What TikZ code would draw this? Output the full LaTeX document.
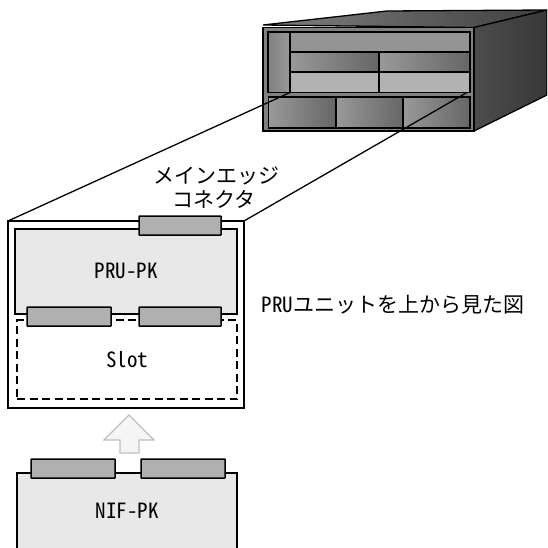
\documentclass[tikz,border=0pt]{standalone}
\usepackage{fontspec}
\setmainfont[RawFeature={+hwid}]{Noto Sans CJK JP}
\usetikzlibrary{positioning}
\tikzset{
  every node/.append style={inner sep=0pt,outer sep=0pt},
  region/.style 2 args={rectangle,draw,line width=1.3pt,anchor=north west,
    minimum width=#1pt,minimum height=#2pt},
  pack/.style={fill=black!9},
  connector/.style={fill=black!31,line width=1.5pt,rounded corners=0.5pt},
  flat/.style={fill=#1},
  grad/.style={left color=black!40,middle color=black!48,right color=black!60},
  label/.style={font=\fontsize{21}{24}\selectfont},
}
\begin{document}
\begin{tikzpicture}[x=1pt,y=-1pt]
  \clip (0,0) rectangle (547,548);
  % chassis
  \draw[line width=1.3pt,left color=black!50,right color=black!75]
    (263,25) -- (387,11) -- (547,10) -- (474,27.5) -- cycle;
  \draw[line width=1.3pt,left color=black!70,right color=black!78]
    (474,27.5) -- (547,10) -- (547,95) -- (474,131) -- cycle;
  \node (front) at (263,27.5) [region={211}{103.5},fill=black!50] {};
  \node (side) at (268,32) [region={22}{60.5},left color=black!50,right color=black!40] {};
  \node (row1) at (side.north east) [region={180}{20},flat=black!42] {};
  \node (row2l) at (row1.south west) [region={89}{20},grad] {};
  \node (row2r) at (row2l.north east) [region={91}{20},grad] {};
  \node (row3l) at (row2l.south west) [region={89}{20.5},flat=black!30] {};
  \node (row3r) at (row3l.north east) [region={91}{20.5},flat=black!30] {};
  \node (low1) at (268.5,97) [region={67.5}{31},grad] {};
  \node (low2) at (low1.north east) [region={67}{31},grad] {};
  \node (low3) at (low2.north east) [region={67}{31},grad] {};
  % boxes
  \node (unit) at (8,221) [region={236}{187}] {};
  \node (slot) at (17,320) [region={220}{79},dash pattern=on 8pt off 4.5pt] {};
  \node (pru) at (15,229) [region={222}{85},pack] {};
  \node (prulabel) at (126,271) [label] {PRU-PK};
  \node (slotlabel) at (127,360) [label] {Slot};
  \node (main) at (139,216) [region={82}{19},connector] {};
  \node (cona) at (27,307) [region={84}{19},connector] {};
  \node (conb) at (139,307) [region={82}{19},connector] {};
  % arrow
  \draw[line width=1.1pt,draw=black!25,fill=black!4]
    (129,415) -- (154,440) -- (139,440) -- (139,453) -- (120,453) -- (120,440) -- (104,440) -- cycle;
  % NIF
  \node (nif) at (17,473) [region={220}{90},pack] {};
  \node (nifa) at (31,459) [region={84}{19},connector] {};
  \node (nifb) at (141,459) [region={84}{19},connector] {};
  \node (niflabel) at (127,511) [label] {NIF-PK};
  % texts
  \node (edge1) at (216,176) [label] {メインエッジ};
  \node (edge2) at (214,199) [label] {コネクタ};
  \node (view) at (393,305) [label] {PRUユニットを上から見た図};
  % lines
  \draw[line width=1.3pt] (row3l.south west) -- (unit.north west);
  \draw[line width=1.3pt] ([xshift=-3pt]row3r.south east) -- (unit.north east);
\end{tikzpicture}
\end{document}
